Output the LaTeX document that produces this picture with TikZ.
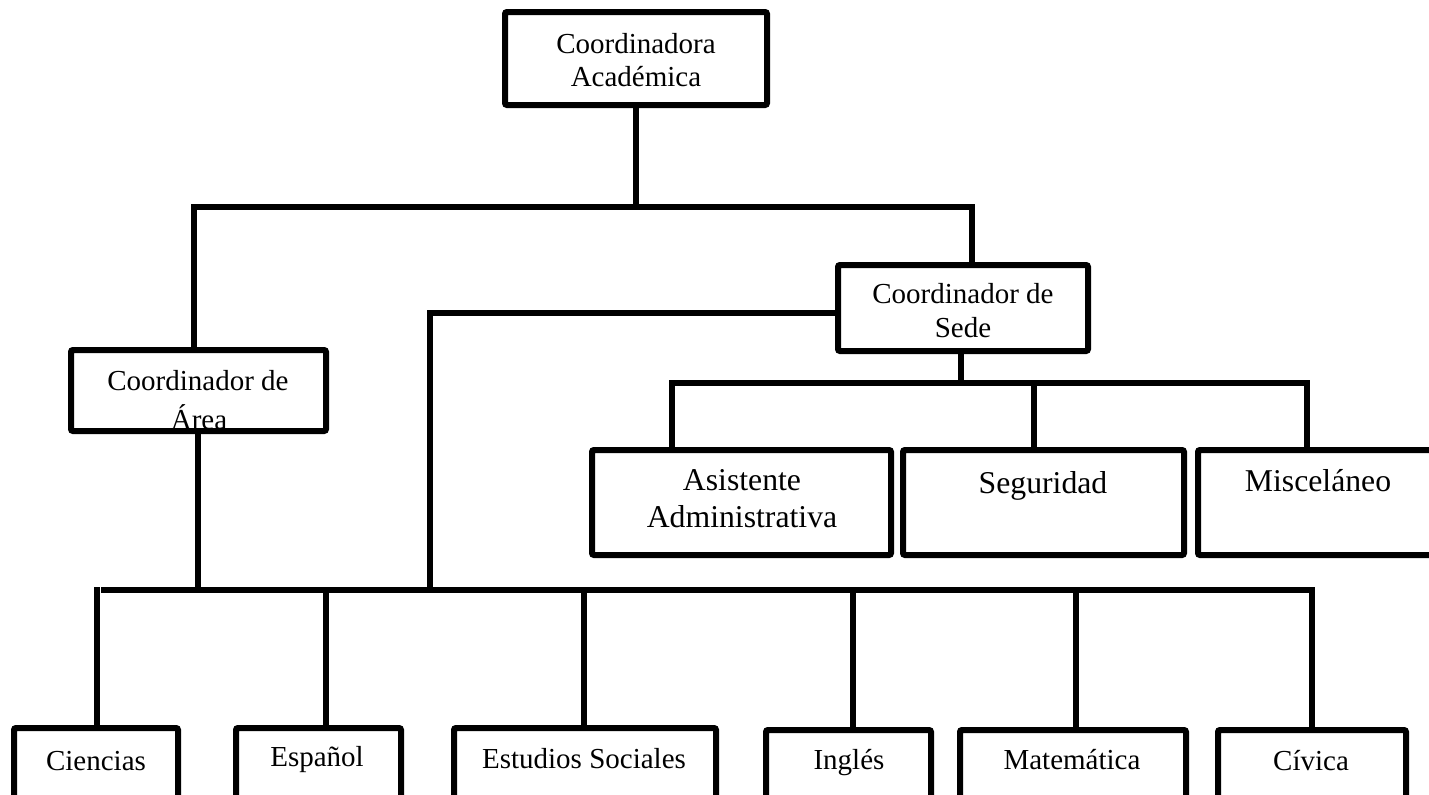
\documentclass[tikz,border=0pt]{standalone}
\usepackage{fontspec}
\setmainfont{Liberation Serif}
\usetikzlibrary{calc,fit}
\begin{document}
\begin{tikzpicture}[x=0.75pt,y=-0.75pt,
  box/.style={draw,line width=4.5pt,rounded corners=1.5pt,inner sep=0pt},
  conn/.style={draw,line width=4pt},
  lbl/.style={anchor=base,inner sep=0pt,font=\fontsize{21.75}{26}\selectfont},
  biglbl/.style={anchor=base,inner sep=0pt,font=\fontsize{23.8}{28}\selectfont}]
\useasboundingbox (0,0) rectangle (1429,794);
\clip (0,0) rectangle (1429,794);

% boxes
\node[box,fit={(505,12) (767,105)}] (acad) {};
\node[box,fit={(71,350) (326,431)}] (area) {};
\node[box,fit={(838,265) (1088,351)}] (sede) {};
\node[box,fit={(592,450) (891,555)}] (asis) {};
\node[box,fit={(903,450) (1184,555)}] (segu) {};
\node[box,fit={(1198,450) (1460,555)}] (misc) {};
\node[box,fit={(14,728) (178,850)}] (cien) {};
\node[box,fit={(236,728) (401,850)}] (espa) {};
\node[box,fit={(454,728) (716,850)}] (estu) {};
\node[box,fit={(766,730) (931,850)}] (ingl) {};
\node[box,fit={(960,730) (1186,850)}] (mate) {};
\node[box,fit={(1218,730) (1406,850)}] (civi) {};

% labels
\node[lbl] (acad1) at (636,53) {Coordinadora};
\node[lbl] (acad2) at (636,86) {Académica};
\begin{scope}
  \clip ($(area.south west)+(4,-4)$) rectangle ($(area.north east)+(-4,4)$);
  \node[lbl] (area1) at (198,390) {Coordinador de};
  \node[lbl] (area2) at (199,429) {Área};
\end{scope}
\node[lbl] (sede1) at (963,303) {Coordinador de};
\node[lbl] (sede2) at (963,337) {Sede};
\node[biglbl] (asis1) at (742,490) {Asistente};
\node[biglbl] (asis2) at (742,527) {Administrativa};
\node[biglbl] (segu1) at (1043,493) {Seguridad};
\node[biglbl] (misc1) at (1318,491) {Misceláneo};
\node[lbl] (cien1) at (96,770) {Ciencias};
\node[lbl] (espa1) at (317,766) {Español};
\node[lbl] (estu1) at (584,768) {Estudios Sociales};
\node[lbl] (ingl1) at (849,769) {Inglés};
\node[lbl] (mate1) at (1072,769) {Matemática};
\node[lbl] (civi1) at (1311,770) {Cívica};

% junction points
\coordinate (topbus) at (636,207);
\coordinate (sedebus) at (961,383);
\coordinate (lowL) at (101,590);
\coordinate (lowR) at (1312,590);

% connectors
\draw[conn] (acad.south) -- (topbus);
\draw[conn] (area.north -| 194,0) -- (194,207) -- (972,207) -- (sede.north -| 972,0);
\draw[conn] (sede.west |- 0,313) -- (430,313) -- (430,590);
\draw[conn] (sede.south -| sedebus) -- (sedebus);
\draw[conn] (asis.north -| 672,0) -- (672,383) -- (1307,383) -- (misc.north -| 1307,0);
\draw[conn] (segu.north -| 1034,0) -- (1034,383);
\draw[conn] (area.south -| 198,0) -- (198,590);
\draw[conn] (lowL) -- (lowR) -- (civi.north);
\draw[conn] (cien.north -| 97,0) -- (97,587);
\draw[conn] (espa.north -| 326,0) -- (326,590);
\draw[conn] (estu.north -| 584,0) -- (584,590);
\draw[conn] (ingl.north -| 853,0) -- (853,590);
\draw[conn] (mate.north -| 1076,0) -- (1076,590);
\end{tikzpicture}
\end{document}
